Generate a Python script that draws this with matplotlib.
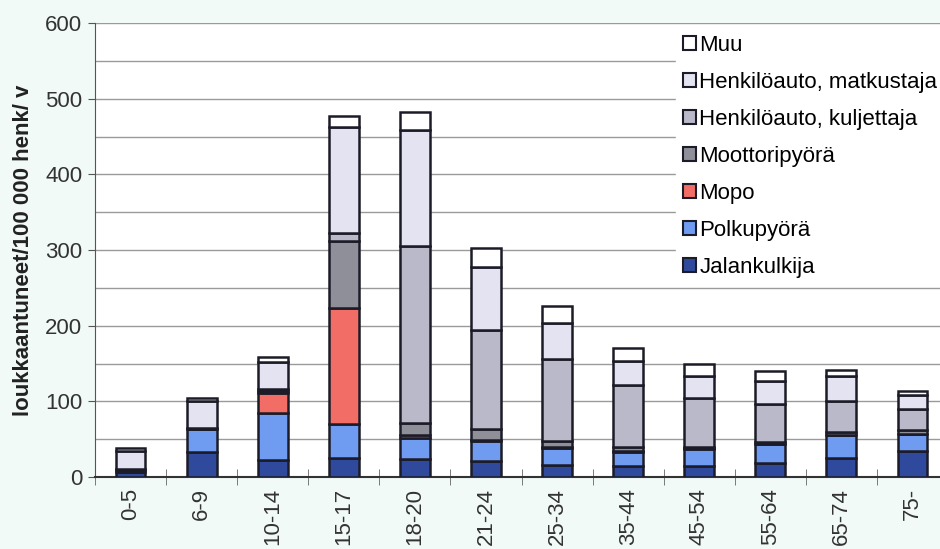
import numpy as np
import matplotlib
matplotlib.use("Agg")
from matplotlib import pyplot as plt
from matplotlib.ticker import MultipleLocator

plt.rcParams['font.family'] = ['Liberation Sans', 'DejaVu Sans']

# age groups on the x axis
ages = ["0-5", "6-9", "10-14", "15-17", "18-20", "21-24", "25-34",
        "35-44", "45-54", "55-64", "65-74", "75-"]

# injured per 100 000 persons per year, by mode of travel (stacked bottom -> top)
jalankulkija = [7, 33, 23, 25, 24, 21, 16, 15, 15, 19, 25, 35]
polkupyora = [2, 31, 61, 45, 27, 27, 22, 18, 22, 24, 30, 22]
mopo = [0, 0, 27, 154, 4, 1, 1, 1, 1, 0, 0, 0]
moottoripyora = [0, 0, 2, 88, 17, 15, 9, 6, 2, 3, 4, 5]
ha_kuljettaja = [1, 1, 3, 10, 233, 130, 108, 81, 64, 51, 42, 28]
ha_matkustaja = [25, 36, 36, 140, 153, 83, 47, 32, 30, 30, 33, 19]
muu = [3, 3, 6, 15, 25, 26, 23, 18, 16, 13, 8, 4]

series = [
    ("Jalankulkija", jalankulkija, "#2f4a9c"),
    ("Polkupyörä", polkupyora, "#6f9cf0"),
    ("Mopo", mopo, "#f26d66"),
    ("Moottoripyörä", moottoripyora, "#8f8f99"),
    ("Henkilöauto, kuljettaja", ha_kuljettaja, "#b9b9c9"),
    ("Henkilöauto, matkustaja", ha_matkustaja, "#e3e3f2"),
    ("Muu", muu, "#ffffff"),
]

fig = plt.figure(figsize=(9.4, 5.49), dpi=100, facecolor="#f1faf7")
ax = fig.add_axes([95 / 940, 72 / 549, 853 / 940, 454 / 549])
ax.set_facecolor("white")

x = np.arange(len(ages))
bottom = np.zeros(len(ages))
handles = []
for name, vals, color in series:
    vals = np.array(vals, dtype=float)
    b = ax.bar(x, vals, 0.42, bottom=bottom, color=color,
               edgecolor="#1c1c28", linewidth=1.8, label=name, zorder=3)
    handles.append(b)
    bottom += vals

ax.set_xlim(-0.5, len(ages) - 0.5)
ax.set_ylim(0, 600)

# grid every 50, labels every 100
ax.yaxis.set_major_locator(MultipleLocator(100))
ax.yaxis.set_minor_locator(MultipleLocator(50))
ax.grid(axis="y", which="both", color="#9a9a9a", linewidth=1.0, zorder=0)
ax.tick_params(axis="y", which="major", labelsize=16, labelcolor="#333333",
               length=5, color="#555555", pad=4)
ax.tick_params(axis="y", which="minor", length=0)

ax.set_xticks(x)
ax.set_xticklabels(ages, rotation=90, fontsize=16, color="#333333")
ax.set_xticks(np.arange(-0.5, len(ages)), minor=True)
ax.tick_params(axis="x", which="major", length=0, pad=8)
ax.tick_params(axis="x", which="minor", direction="inout", length=11,
               color="#666666")

for side in ["top", "right"]:
    ax.spines[side].set_visible(False)
ax.spines["left"].set_color("#555555")
ax.spines["bottom"].set_color("#333333")
ax.spines["bottom"].set_linewidth(1.5)

ax.set_ylabel("loukkaantuneet/100 000 henk/ v", fontsize=16,
              fontweight="bold", color="#222222", labelpad=8)

leg = fig.legend(handles[::-1], [s[0] for s in series][::-1],
                 loc="upper left", bbox_to_anchor=(676 / 940, 1 - 28 / 549),
                 fontsize=16, frameon=True, fancybox=False, framealpha=1,
                 handlelength=0.6, handleheight=0.6, handletextpad=0.15,
                 labelspacing=0.72, borderpad=0.3, borderaxespad=0)
leg.get_frame().set_facecolor("white")
leg.get_frame().set_edgecolor("white")
for h in leg.legend_handles:
    h.set_linewidth(1.5)

fig.savefig("out.png", dpi=100, facecolor=fig.get_facecolor())
